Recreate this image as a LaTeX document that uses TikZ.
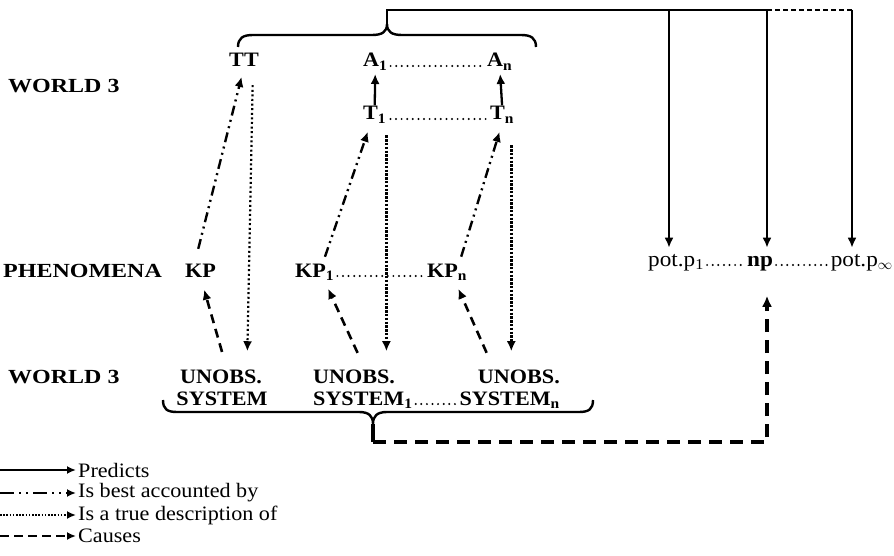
\documentclass[tikz,border=0pt]{standalone}
\usepackage{fontspec}
\setmainfont{Liberation Serif}
\newfontfamily\tnr[FakeStretch=1.08]{Liberation Serif}
\newfontfamily\tnrwide[FakeStretch=1.2]{Liberation Serif}
\usetikzlibrary{arrows.meta}

\tikzset{
  txt/.style={inner sep=0pt, font=\tnr\fontsize{20.5}{24}\selectfont},
  bld/.style={inner sep=0pt, font=\tnr\bfseries\fontsize{20.5}{24}\selectfont},
  side/.style={inner sep=0pt, anchor=base west, font=\tnrwide\bfseries\fontsize{20}{24}\selectfont},
  tip/.style={-{Latex[length=10pt,width=9pt]}},
  predicts/.style={tip, line width=2.3pt},
  accounted/.style={tip, line width=2.4pt, dash pattern=on 10pt off 4.5pt on 2pt off 4.5pt on 2pt off 4.5pt},
  truedesc/.style={tip, line width=2.2pt, dash pattern=on 2pt off 2.6pt},
  truedense/.style={tip, line width=3.4pt, dash pattern=on 2.4pt off 1.4pt},
  causes/.style={tip, line width=2.6pt, dash pattern=on 9pt off 6pt},
  causesbold/.style={-{Latex[length=11pt,width=10pt]}, line width=3.8pt, dash pattern=on 13pt off 8pt},
  brace/.style={line width=2.4pt},
  dotrow/.style={line width=2.2pt, line cap=round, dash pattern=on 0pt off 5.6pt},
  legtip/.style={-{Latex[length=9pt,width=8pt]}, shorten >=2pt},
}

\begin{document}
\begin{tikzpicture}[x=1pt,y=-1pt]
\useasboundingbox (0,0) rectangle (894,556);

% level labels
\node[side] (w3a) at (8,93) {WORLD 3};
\node[side] (phen) at (3,277) {PHENOMENA};
\node[side] (w3b) at (8,383) {WORLD 3};

% world 3: theories and their predictions
\node[bld, anchor=base] (tt) at (244,67) {TT};
\node[bld, anchor=base west] (a1) at (363,67) {A\textsubscript{1}};
\node[bld, anchor=base west] (an) at (487,67) {A\textsubscript{n}};
\node[bld, anchor=base west] (t1) at (363,120) {T\textsubscript{1}};
\node[bld, anchor=base west] (tn) at (490,120) {T\textsubscript{n}};

% phenomena
\node[bld, anchor=base west] (kp) at (185,277) {KP};
\node[bld, anchor=base west] (kp1) at (295,277) {KP\textsubscript{1}};
\node[bld, anchor=base west] (kpn) at (427,277) {KP\textsubscript{n}};

% unobservable systems
\node[bld, anchor=base] (u0) at (221,383) {UNOBS.};
\node[bld, anchor=base] (s0) at (222,405) {SYSTEM};
\node[bld, anchor=base west] (u1) at (313,383) {UNOBS.};
\node[bld, anchor=base west] (s1) at (313,405) {SYSTEM\textsubscript{1}};
\node[bld, anchor=base east] (un) at (560,383) {UNOBS.};
\node[bld, anchor=base east] (sn) at (560,405) {SYSTEM\textsubscript{n}};

% potential phenomena
\node[txt, anchor=base west, font=\tnr\fontsize{21.5}{24}\selectfont] (p1) at (648,266) {pot.p\textsubscript{1}};
\node[bld, anchor=base, font=\tnr\bfseries\fontsize{21.5}{24}\selectfont] (np) at (760,266) {np};
\node[txt, anchor=base east, font=\tnr\fontsize{21.5}{24}\selectfont] (pinf) at (893,266) {pot.p\textsubscript{$\infty$}};

% dotted runs between indexed items
\draw[dotrow] ([xshift=3pt,yshift=1pt]a1.base east) -- ([xshift=-3pt,yshift=1pt]an.base west);
\draw[dotrow] ([xshift=4pt,yshift=1pt]t1.base east) -- ([xshift=-4pt,yshift=1pt]tn.base west);
\draw[dotrow] ([xshift=3pt,yshift=1pt]kp1.base east) -- ([xshift=-3pt,yshift=1pt]kpn.base west);
\draw[dotrow] ([xshift=3pt,yshift=1pt]s1.base east) -- ([xshift=-3pt,yshift=1pt]sn.base west);
\draw[dotrow] ([xshift=3pt,yshift=1pt]p1.base east) -- ([xshift=-3pt,yshift=1pt]np.base west);
\draw[dotrow] ([xshift=3pt,yshift=1pt]np.base east) -- ([xshift=-3pt,yshift=1pt]pinf.base west);

% predicts
\draw[predicts, shorten <=1pt, shorten >=7pt] (t1.north) -- (a1.base);
\draw[predicts, shorten <=1pt, shorten >=7pt] (tn.north) -- (an.base);

% is best accounted by
\draw[accounted, shorten <=15pt, shorten >=10pt] ([xshift=-6pt]kp.north) -- (tt.south);
\draw[accounted, shorten <=7pt, shorten >=9pt] ([xshift=8pt]kp1.north) -- ([xshift=-4pt]t1.south);
\draw[accounted, shorten <=7pt, shorten >=9pt] ([xshift=12pt]kpn.north) -- (tn.south);

% is a true description of
\draw[truedesc, shorten <=18pt, shorten >=18pt] ([xshift=9pt]tt.south) -- ([xshift=26pt]u0.north);
\draw[truedense, shorten <=12pt, shorten >=18pt] (t1.south east) -- (t1.south east |- u1.north);
\draw[truedense, shorten <=22pt, shorten >=18pt] ([xshift=-3pt]tn.south east) -- ([xshift=-3pt]tn.south east |- un.north);

% causes
\draw[causes, shorten <=18pt, shorten >=13pt] ([xshift=6pt]u0.north) -- (kp.south);
\draw[causes, shorten <=18pt, shorten >=13pt] ([xshift=11pt]u1.north) -- ([xshift=8pt]kp1.base);
\draw[causes, shorten <=18pt, shorten >=13pt] ([xshift=-25pt]un.north) -- ([xshift=6pt]kpn.base);

% upper brace over the theories, feeding the predictions
\draw[brace] (238,47) .. controls (238,38) and (243,35) .. (253,35) -- (372,35)
  .. controls (382,35) and (387,32) .. (387,24)
  .. controls (387,32) and (392,35) .. (402,35) -- (521,35)
  .. controls (531,35) and (536,38) .. (536,47);
\coordinate (cusp) at (387,24);
\coordinate (hub) at (387,10);
\coordinate (j1) at (669,10);
\coordinate (j2) at (767,10);
\coordinate (j3) at (852,10);
\draw[line width=2.6pt] (cusp) -- (hub) -- (j2);
\draw[line width=1.4pt, dash pattern=on 5pt off 3pt] (j2) -- (j3);
\draw[predicts, shorten >=6pt] (j1) -- (j1 |- p1.north);
\draw[predicts, shorten >=6pt] (j2) -- (j2 |- p1.north);
\draw[predicts, shorten >=6pt] (j3) -- (j3 |- p1.north);

% lower brace under the systems, causing np
\draw[brace] (163,400) .. controls (163,409) and (167,412) .. (177,412) -- (359,412)
  .. controls (369,412) and (373,416) .. (373,424)
  .. controls (373,416) and (377,412) .. (387,412) -- (579,412)
  .. controls (589,412) and (593,409) .. (593,400);
\coordinate (bcusp) at (373,424);
\coordinate (bfoot) at (373,442);
\coordinate (bcorner) at (767,442);
\draw[line width=3.8pt] (bcusp) -- (bfoot);
\draw[causesbold, shorten >=25pt] (bfoot) -- (bcorner) -- (bcorner |- np.south);

% legend
\node[txt, anchor=west] (lg1) at (78,470) {Predicts};
\node[txt, anchor=west] (lg2) at (78,493) {Is best accounted by};
\node[txt, anchor=west] (lg3) at (78,515) {Is a true description of};
\node[txt, anchor=west] (lg4) at (78,536) {Causes};
\coordinate (ls1) at (0,470);
\coordinate (ls2) at (0,493);
\coordinate (ls3) at (0,515);
\coordinate (ls4) at (0,536);
\draw[legtip, line width=2pt] (ls1) -- (lg1.west);
\draw[legtip, line width=2pt, dash pattern=on 14pt off 5pt on 2pt off 5pt on 2pt off 5pt] (ls2) -- (lg2.west);
\draw[legtip, line width=2pt, dash pattern=on 1.6pt off 1.6pt] (ls3) -- (lg3.west);
\draw[legtip, line width=2.4pt, dash pattern=on 9pt off 5pt] (ls4) -- (lg4.west);
\end{tikzpicture}
\end{document}
